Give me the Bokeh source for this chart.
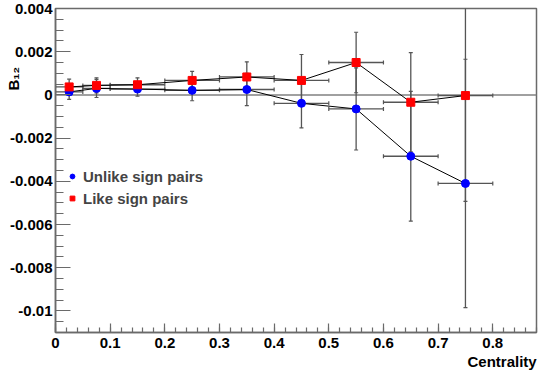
import numpy as np
from bokeh.plotting import figure
from bokeh.models import (ColumnDataSource, Whisker, TeeHead, Span, LinearAxis,
                          Legend, LegendItem, FixedTicker, Range1d)
from bokeh.embed import file_html
from bokeh.resources import INLINE

# ---- data ----
centrality = [0.025, 0.075, 0.15, 0.25, 0.35, 0.45, 0.55, 0.65, 0.75]
centrality_err = [0.025, 0.025, 0.05, 0.05, 0.05, 0.05, 0.05, 0.05, 0.05]

unlike_b12 = [0.00014, 0.00030, 0.00027, 0.00021, 0.00025, -0.00039, -0.00065, -0.00284, -0.00410]
unlike_err = [0.00035, 0.00042, 0.00033, 0.00048, 0.00075, 0.00114, 0.00190, 0.00300, 0.00575]

like_b12 = [0.00037, 0.00044, 0.00047, 0.00067, 0.00083, 0.00067, 0.00150, -0.00034, -0.00003]
like_err = [0.00036, 0.00035, 0.00032, 0.00042, 0.00070, 0.00120, 0.00140, 0.00230, 0.00490]

x_ticks = [0.0, 0.1, 0.2, 0.3, 0.4, 0.5, 0.6, 0.7, 0.8]
x_tick_labels = ["0", "0.1", "0.2", "0.3", "0.4", "0.5", "0.6", "0.7", "0.8"]
y_ticks = [-0.01, -0.008, -0.006, -0.004, -0.002, 0.0, 0.002, 0.004]
y_tick_labels = ["-0.01", "-0.008", "-0.006", "-0.004", "-0.002", "0", "0.002", "0.004"]

x_title = "Centrality"
y_title = "B\u2081\u2082"
x_title_at = 0.817     # ROOT-style titles sit at the far end of each axis
y_title_at = 0.00075

x_range = (0.0, 0.88)
y_range = (-0.011, 0.004)

FONT = "Liberation Sans"
AXC = "#6a6a6a"
ERRC = "#555555"

x_minor = [round(v, 3) for v in np.arange(0.0, 0.881, 0.02)]
y_minor = [round(v, 5) for v in np.arange(-0.011, 0.00401, 0.0005)]

p = figure(frame_width=481, frame_height=324, output_backend="svg",
           toolbar_location=None, x_range=Range1d(*x_range), y_range=Range1d(*y_range),
           min_border_left=55, min_border_right=3, min_border_top=8, min_border_bottom=42)
p.xgrid.visible = False
p.ygrid.visible = False
p.outline_line_color = AXC
p.outline_line_width = 1.5
p.background_fill_color = "white"
p.border_fill_color = "white"

p.xaxis.ticker = FixedTicker(ticks=x_ticks, minor_ticks=x_minor)
p.yaxis.ticker = FixedTicker(ticks=y_ticks, minor_ticks=y_minor)
p.xaxis.major_label_overrides = dict(zip(x_ticks, x_tick_labels))
p.yaxis.major_label_overrides = dict(zip(y_ticks, y_tick_labels))

for ax, maj, mnr, stand in ((p.xaxis, 9, 5, 5), (p.yaxis, 15, 8, 3)):
    ax.major_tick_in = maj
    ax.major_tick_out = 0
    ax.minor_tick_in = mnr
    ax.minor_tick_out = 0
    ax.axis_line_color = AXC
    ax.axis_line_width = 1.5
    ax.major_tick_line_color = AXC
    ax.minor_tick_line_color = AXC
    ax.major_tick_line_width = 1.2
    ax.minor_tick_line_width = 1.2
    ax.major_label_text_font = FONT
    ax.major_label_text_font_style = "bold"
    ax.major_label_text_font_size = "15px"
    ax.major_label_text_color = "black"
    ax.major_label_standoff = stand

# axis titles drawn as single-tick outer axes (so they sit at the axis ends)
def title_axis(where, pos, text, standoff, orient):
    a = LinearAxis(ticker=FixedTicker(ticks=[pos], minor_ticks=[]),
                   major_label_overrides={pos: text},
                   axis_line_color=None, major_tick_line_color=None,
                   minor_tick_line_color=None, major_tick_in=0, major_tick_out=0,
                   minor_tick_in=0, minor_tick_out=0,
                   major_label_standoff=standoff, major_label_orientation=orient,
                   major_label_text_font=FONT, major_label_text_font_style="bold",
                   major_label_text_font_size="15px", major_label_text_color="black")
    p.add_layout(a, where)

title_axis("below", x_title_at, x_title, 2, "horizontal")
title_axis("left", y_title_at, y_title, -16, "vertical")

# zero line
p.add_layout(Span(location=0, dimension="width", line_color="#808080",
                  line_width=1.5, level="underlay"))

def series(vals, errs, color, marker):
    src = ColumnDataSource(dict(
        x=centrality, y=vals,
        lo=[v - e for v, e in zip(vals, errs)],
        hi=[v + e for v, e in zip(vals, errs)],
        xlo=[c - e for c, e in zip(centrality, centrality_err)],
        xhi=[c + e for c, e in zip(centrality, centrality_err)],
    ))
    for base, lower, upper, dim in (("x", "lo", "hi", "height"), ("y", "xlo", "xhi", "width")):
        w = Whisker(source=src, base=base, lower=lower, upper=upper, dimension=dim,
                    line_color=ERRC, line_width=1.3, level="underlay",
                    upper_head=TeeHead(size=4, line_color=ERRC, line_width=1.2),
                    lower_head=TeeHead(size=4, line_color=ERRC, line_width=1.2))
        p.add_layout(w)
    p.line("x", "y", source=src, line_color="black", line_width=1)
    r = p.scatter("x", "y", source=src, marker=marker, size=8,
                  fill_color=color, line_color=color)
    return r

r_unlike = series(unlike_b12, unlike_err, "#0000ff", "circle")
r_like = series(like_b12, like_err, "#ff0000", "square")

legend = Legend(items=[LegendItem(label="Unlike sign pairs", renderers=[r_unlike]),
                       LegendItem(label="Like sign pairs", renderers=[r_like])],
                location=(11, 124), padding=0, margin=0, spacing=2,
                glyph_width=12, glyph_height=20, label_height=20, label_standoff=5,
                border_line_alpha=0, background_fill_alpha=0,
                label_text_font=FONT, label_text_font_style="bold",
                label_text_font_size="15px")
p.add_layout(legend)

open("out.html", "w").write(file_html(p, INLINE))
